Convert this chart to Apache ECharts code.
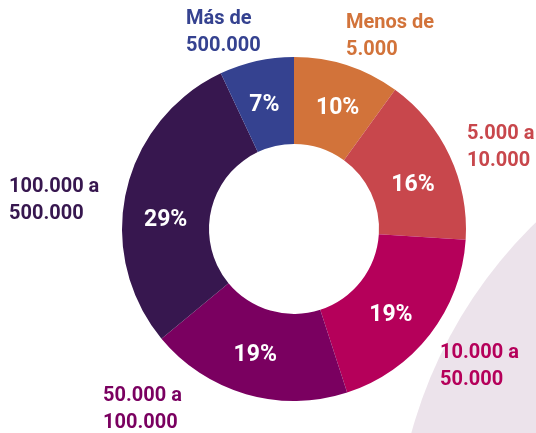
<!DOCTYPE html>
<html>
<head>
<meta charset="utf-8">
<script src="https://cdn.jsdelivr.net/npm/echarts@6/dist/echarts.min.js"></script>
<style>
  html, body { margin: 0; padding: 0; background: #fff; }
  #chart { width: 536px; height: 433px; }
</style>
</head>
<body>
<div id="chart"></div>
<script>
// tramos de población, en sentido horario desde arriba
const categories = ['Menos de\n5.000', '5.000 a\n10.000', '10.000 a\n50.000', '50.000 a\n100.000', '100.000 a\n500.000', 'Más de\n500.000'];
const values = [10, 16, 19, 19, 29, 7];
const colors = ['#d2733a', '#c8474c', '#b5005a', '#7a0060', '#37174f', '#354290'];

// posición de las etiquetas exteriores (izquierda, centro vertical)
const labelPos = [[346, 36], [467, 147], [440, 366], [103, 409], [9, 200], [186, 32]];
// pequeño ajuste de las etiquetas interiores
const innerShift = [[3, 4], [0, 12], [-7, 6], [-2, 0], [0, 20], [-1, 5]];

const chart = echarts.init(document.getElementById('chart'));

const data = categories.map((name, i) => ({
  name: name,
  value: values[i],
  itemStyle: { color: colors[i] },
}));

chart.setOption({
  animation: false,
  graphic: [
    {
      type: 'circle',
      z: -10,
      shape: { cx: 858, cy: 555, r: 463 },
      style: { fill: '#ece3eb' },
    },
  ],
  series: [
    {
      type: 'pie',
      center: [294, 229],
      radius: [85, 172],
      startAngle: 90,
      data: data,
      itemStyle: { borderWidth: 0 },
      label: {
        show: true,
        position: 'inside',
        formatter: '{c}%',
        color: '#fff',
        fontFamily: 'Roboto',
        fontWeight: 'bold',
        fontSize: 23,
      },
      labelLayout: function (params) {
        const s = innerShift[params.dataIndex];
        return { dx: s[0], dy: s[1] };
      },
      emphasis: { disabled: true },
    },
    {
      type: 'pie',
      center: [294, 229],
      radius: [85, 172],
      startAngle: 90,
      silent: true,
      data: data.map((d, i) => ({
        name: d.name,
        value: d.value,
        itemStyle: { color: 'transparent' },
        label: { color: colors[i] },
      })),
      label: {
        show: true,
        position: 'outside',
        formatter: '{b}',
        fontFamily: 'Roboto',
        fontWeight: 'bold',
        fontSize: 20,
        lineHeight: 27,
        align: 'left',
        overflow: 'none',
        width: 200,
      },
      labelLine: { show: false },
      labelLayout: function (params) {
        const p = labelPos[params.dataIndex];
        return { x: p[0], y: p[1], align: 'left', verticalAlign: 'middle' };
      },
    },
  ],
});
</script>
</body>
</html>
